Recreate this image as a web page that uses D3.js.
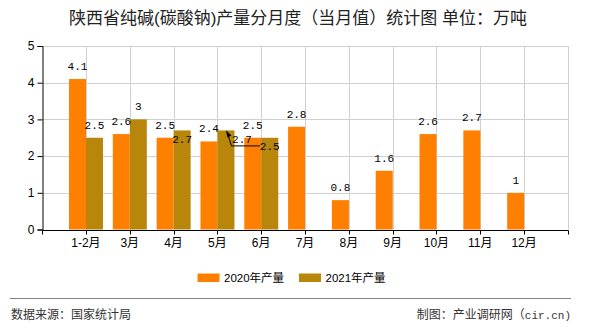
<!DOCTYPE html>
<html>
<head>
<meta charset="utf-8">
<script src="https://cdn.jsdelivr.net/npm/d3@7"></script>
<style>
  html, body { margin: 0; padding: 0; background: #fff; }
  svg { display: block; }
</style>
</head>
<body>
<svg id="chart" width="590" height="330"></svg>
<script>
// ---- data ----
const categories = ["1-2月","3月","4月","5月","6月","7月","8月","9月","10月","11月","12月"];
const series2020 = [4.1, 2.6, 2.5, 2.4, 2.5, 2.8, 0.8, 1.6, 2.6, 2.7, 1];
const series2021 = [2.5, 3, 2.7, 2.7, 2.5, null, null, null, null, null, null];
const seriesNames = ["2020年产量", "2021年产量"];
const yTicks = [0, 1, 2, 3, 4, 5];
const titleText = "陕西省纯碱(碳酸钠)产量分月度（当月值）统计图 单位：万吨";
const sourceText = "数据来源：国家统计局";
const creditText = ["制图：产业调研网（", "cir.cn)"];

// ---- styling / layout ----
const colors = ["#FF8000", "#B8860B"];
const plot = { left: 42, right: 568, top: 46, bottom: 229.5 };
const labelFont = "'Liberation Mono', 'DejaVu Sans Mono', monospace";
const textFont = "'Liberation Sans', 'Noto Sans CJK SC', sans-serif";

const svg = d3.select("#chart");

const x = d3.scaleBand().domain(categories)
  .range([plot.left + 22, plot.right - 22]).padding(0);
const x1 = d3.scaleBand().domain(seriesNames).range([5, 39]).padding(0);
const y = d3.scaleLinear().domain([0, 5]).range([plot.bottom, plot.top]);

// grid
const grid = svg.append("g");
grid.selectAll("line.h").data(yTicks.filter(d => d > 0)).join("line")
  .attr("x1", plot.left).attr("x2", plot.right)
  .attr("y1", d => Math.round(y(d)) + 0.5).attr("y2", d => Math.round(y(d)) + 0.5)
  .attr("stroke", "#d0d0d0").attr("stroke-width", 1);
const vPos = categories.map(c => x(c) + x.bandwidth() / 2).concat([plot.right]);
grid.selectAll("line.v").data(vPos).join("line")
  .attr("x1", d => Math.round(d) + 0.5).attr("x2", d => Math.round(d) + 0.5)
  .attr("y1", plot.top).attr("y2", plot.bottom)
  .attr("stroke", "#d0d0d0").attr("stroke-width", 1);

// bars
const rows = categories.map((c, i) => ({ cat: c, vals: [series2020[i], series2021[i]] }));
const barG = svg.append("g");
rows.forEach(r => {
  r.vals.forEach((v, si) => {
    if (v == null) return;
    barG.append("rect")
      .attr("x", x(r.cat) + x1(seriesNames[si]))
      .attr("width", x1.bandwidth())
      .attr("y", y(v))
      .attr("height", y(0) - y(v))
      .attr("fill", colors[si]);
  });
});

// axes
const yAxis = d3.axisLeft(y).tickValues(yTicks).tickSize(5).tickPadding(3).tickFormat(d3.format("d"));
const yg = svg.append("g").attr("transform", `translate(${plot.left + 0.5},0)`).call(yAxis);
yg.select(".domain").attr("stroke", "#000");
yg.selectAll("text").attr("font-family", textFont).attr("font-size", 12).attr("fill", "#000");

const xg = svg.append("g").attr("transform", `translate(0,${Math.round(plot.bottom) + 0.5})`);
xg.append("line").attr("x1", plot.left).attr("x2", plot.right + 0.5).attr("stroke", "#000");
const xTickPos = [plot.left].concat(vPos);
xg.selectAll("line.t").data(xTickPos).join("line")
  .attr("x1", d => Math.round(d) + 0.5).attr("x2", d => Math.round(d) + 0.5)
  .attr("y1", 0).attr("y2", 4).attr("stroke", "#000");
xg.selectAll("text").data(categories).join("text")
  .attr("x", d => x(d) + x.bandwidth() / 2)
  .attr("y", 16)
  .attr("text-anchor", "middle")
  .attr("font-family", textFont).attr("font-size", 12).attr("fill", "#000")
  .text(d => d);

// value labels (positions adjusted where the original moved them)
const labelAdjust = {
  "1|4月": { dx: 0, dy: 9 },
  "1|5月": { dx: 16, dy: 9, leader: true },
  "1|6月": { dx: 0, dy: 8.5 }
};
const lblG = svg.append("g");
rows.forEach(r => {
  r.vals.forEach((v, si) => {
    if (v == null) return;
    const cx = x(r.cat) + x1(seriesNames[si]) + x1.bandwidth() / 2;
    const top = y(v);
    const adj = labelAdjust[si + "|" + r.cat] || { dx: 0, dy: -13 };
    lblG.append("text")
      .attr("x", cx + adj.dx)
      .attr("y", top + adj.dy)
      .attr("dy", "0.35em")
      .attr("text-anchor", "middle")
      .attr("font-family", labelFont).attr("font-size", 11).attr("fill", "#000")
      .text(v);
    if (adj.leader) {
      lblG.append("path")
        .attr("d", `M${cx + 1},${top + 1} L${cx + 5.5},${top + 15.5} L${cx + 34},${top + 15.5}`)
        .attr("fill", "none").attr("stroke", "#000").attr("stroke-width", 1);
      lblG.append("path")
        .attr("d", `M${cx},${top} L${cx + 5.5},${top + 5} L${cx + 1.5},${top + 7} Z`)
        .attr("fill", "#000");
    }
  });
});

// title
svg.append("text")
  .attr("x", 298).attr("y", 18).attr("dy", "0.35em")
  .attr("text-anchor", "middle")
  .attr("font-family", textFont).attr("font-size", 17).attr("fill", "#222")
  .text(titleText);

// legend
const legend = svg.append("g");
const legX = [197.5, 299];
seriesNames.forEach((n, i) => {
  legend.append("rect").attr("x", legX[i]).attr("y", 273.5).attr("width", 22).attr("height", 8.5).attr("fill", colors[i]);
  legend.append("text").attr("x", legX[i] + 26.5).attr("y", 278).attr("dy", "0.35em")
    .attr("font-family", textFont).attr("font-size", 11.5).attr("fill", "#000").text(n);
});

// footer
svg.append("line").attr("x1", 10).attr("x2", 571).attr("y1", 298.5).attr("y2", 298.5)
  .attr("stroke", "#808080").attr("stroke-width", 1.2);
svg.append("text").attr("x", 11).attr("y", 315).attr("dy", "0.35em")
  .attr("font-family", textFont).attr("font-size", 12).attr("fill", "#333").text(sourceText);
const credit = svg.append("text").attr("x", 571).attr("y", 315).attr("dy", "0.35em").attr("text-anchor", "end")
  .attr("font-family", textFont).attr("font-size", 12).attr("fill", "#333");
credit.append("tspan").text(creditText[0]);
credit.append("tspan").attr("font-family", labelFont).attr("font-size", 11).text(creditText[1]);
</script>
</body>
</html>
